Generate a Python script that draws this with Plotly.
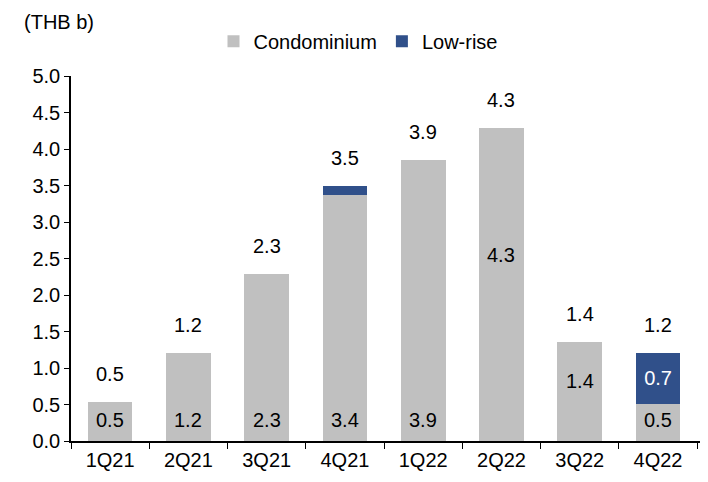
import plotly.graph_objects as go

categories = ["1Q21", "2Q21", "3Q21", "4Q21", "1Q22", "2Q22", "3Q22", "4Q22"]
condo = [0.54, 1.21, 2.29, 3.37, 3.85, 4.29, 1.35, 0.51]
lowrise = [0.0, 0.0, 0.0, 0.12, 0.0, 0.0, 0.0, 0.70]
total_labels = ["0.5", "1.2", "2.3", "3.5", "3.9", "4.3", "1.4", "1.2"]
condo_labels = ["0.5", "1.2", "2.3", "3.4", "3.9", "4.3", "1.4", "0.5"]
lowrise_labels = ["", "", "", "", "", "", "", "0.7"]
y_ticks = [0, 0.5, 1.0, 1.5, 2.0, 2.5, 3.0, 3.5, 4.0, 4.5, 5.0]

FONT = "Liberation Sans, Arial, sans-serif"
FS = 20
GRAY = "#C0C0C0"
BLUE = "#30508A"

fig = go.Figure()
fig.add_bar(x=categories, y=condo, name="Condominium", marker=dict(color=GRAY, line=dict(width=0)))
fig.add_bar(x=categories, y=lowrise, name="Low-rise", marker=dict(color=BLUE, line=dict(width=0)),
            text=lowrise_labels, textposition="inside", insidetextanchor="middle",
            textfont=dict(color="white", size=FS, family=FONT))

totals = [c + l for c, l in zip(condo, lowrise)]
ann = []
for cat, t, lab in zip(categories, totals, total_labels):
    ann.append(dict(x=cat, y=t, text=lab, showarrow=False, yanchor="bottom", yshift=15,
                    font=dict(size=FS, family=FONT, color="black")))
# condo inside labels: most near base, 2Q22 and 3Q22 placed higher
for cat, v, lab in zip(categories, condo, condo_labels):
    if cat == "2Q22":
        yy, ys = 2.55, 0
    elif cat == "3Q22":
        yy, ys = 0.82, 0
    else:
        yy, ys = 0, 21
    ann.append(dict(x=cat, y=yy, text=lab, showarrow=False, yanchor="middle", yshift=ys,
                    font=dict(size=FS, family=FONT, color="black")))
ann.append(dict(xref="paper", yref="paper", x=-0.077, y=1.148, xanchor="left", yanchor="middle",
                text="(THB b)", showarrow=False, font=dict(size=FS, family=FONT, color="black")))

fig.update_layout(
    barmode="stack",
    bargap=0.43,
    width=700, height=474,
    margin=dict(l=63, r=3, t=68, b=41, autoexpand=False),
    paper_bgcolor="white", plot_bgcolor="white",
    font=dict(family=FONT, size=FS, color="black"),
    showlegend=True,
    legend=dict(orientation="h", xref="container", yref="container", x=0.50, xanchor="center",
                y=0.93, yanchor="middle", font=dict(size=FS, family=FONT),
                traceorder="normal", itemwidth=30),
    annotations=ann,
)
fig.update_xaxes(showline=True, linecolor="black", linewidth=1.5, ticks="outside", ticklen=6,
                 tickcolor="black", tickson="boundaries", showgrid=False,
                 range=[-0.5, 7.6],
                 tickfont=dict(size=FS, family=FONT))
fig.update_yaxes(range=[0, 5], tickvals=y_ticks, ticktext=[f"{v:.1f}" for v in y_ticks],
                 showline=True, linecolor="black", linewidth=1.5, ticks="outside", ticklen=5,
                 tickcolor="black", showgrid=False, zeroline=False,
                 tickfont=dict(size=FS, family=FONT))

fig.write_html("out.html")
